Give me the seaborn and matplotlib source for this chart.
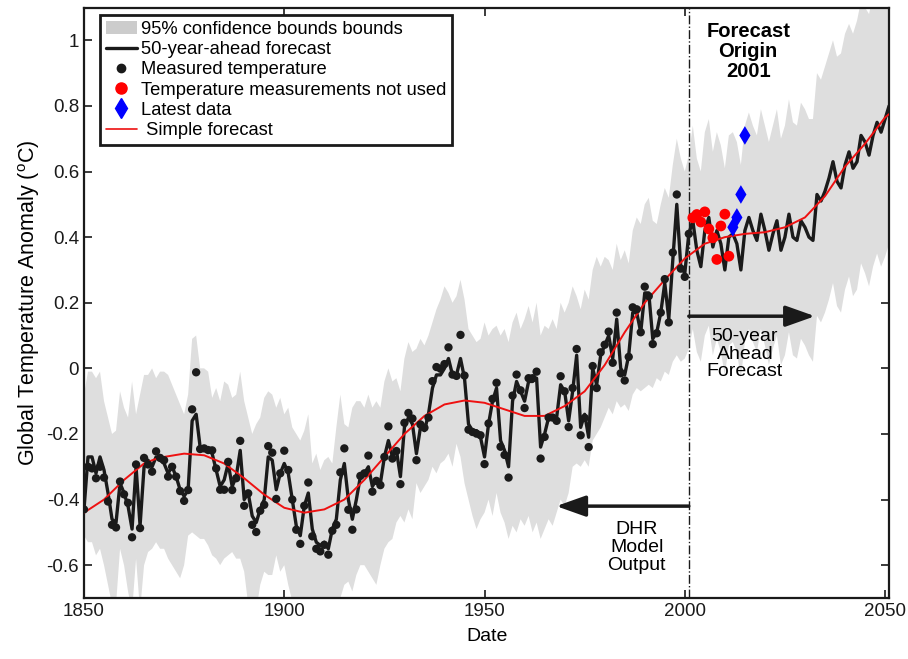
import numpy as np
import matplotlib
matplotlib.use('Agg')
import matplotlib.pyplot as plt
import seaborn as sns
from matplotlib.lines import Line2D
from matplotlib.patches import Patch

# Years covered by the model output / forecast and by the measurements
years = list(range(1850, 2052))
obs_years = list(range(1850, 2002))

# Measured global temperature anomaly (black dots)
measured = [
    -0.43, -0.30, -0.305, -0.335, -0.30, -0.333, -0.406, -0.477, -0.485, -0.345,
    -0.384, -0.41, -0.515, -0.293, -0.487, -0.273, -0.293, -0.315, -0.253, -0.273,
    -0.28, -0.33, -0.30, -0.33, -0.374, -0.404, -0.371, -0.125, -0.012, -0.246,
    -0.244, -0.249, -0.25, -0.305, -0.37, -0.37, -0.285, -0.371, -0.335, -0.221,
    -0.419, -0.381, -0.477, -0.499, -0.434, -0.416, -0.237, -0.257, -0.398, -0.32,
    -0.251, -0.31, -0.40, -0.492, -0.535, -0.419, -0.348, -0.512, -0.55, -0.558,
    -0.538, -0.568, -0.495, -0.477, -0.317, -0.244, -0.431, -0.492, -0.43, -0.328,
    -0.32, -0.266, -0.376, -0.343, -0.356, -0.27, -0.177, -0.275, -0.252, -0.353,
    -0.166, -0.136, -0.153, -0.28, -0.171, -0.181, -0.15, -0.039, 0.004, -0.001,
    0.013, 0.064, -0.019, -0.023, 0.102, -0.022, -0.187, -0.194, -0.199, -0.204,
    -0.292, -0.168, -0.093, -0.044, -0.239, -0.264, -0.333, -0.083, -0.019, -0.067,
    -0.121, -0.03, -0.03, -0.01, -0.275, -0.209, -0.15, -0.15, -0.16, -0.024,
    -0.07, -0.179, -0.06, 0.059, -0.204, -0.151, -0.24, 0.007, -0.06, 0.049,
    0.072, 0.112, 0.017, 0.17, -0.015, -0.037, 0.035, 0.186, 0.18, 0.11,
    0.249, 0.22, 0.074, 0.107, 0.17, 0.272, 0.14, 0.353, 0.53, 0.304,
    0.279, 0.41,
]

# DHR model output up to 2001, then the 50-year-ahead forecast (black line)
dhr_forecast = [
    -0.43, -0.27, -0.27, -0.32, -0.27, -0.31, -0.38, -0.46, -0.47, -0.35,
    -0.38, -0.42, -0.49, -0.30, -0.48, -0.30, -0.28, -0.30, -0.27, -0.28,
    -0.29, -0.32, -0.30, -0.33, -0.37, -0.39, -0.37, -0.16, -0.14, -0.24,
    -0.25, -0.25, -0.26, -0.31, -0.36, -0.34, -0.29, -0.36, -0.33, -0.25,
    -0.40, -0.38, -0.45, -0.47, -0.43, -0.40, -0.27, -0.28, -0.37, -0.32,
    -0.29, -0.32, -0.40, -0.48, -0.51, -0.42, -0.38, -0.49, -0.53, -0.54,
    -0.53, -0.55, -0.49, -0.46, -0.34, -0.29, -0.40, -0.46, -0.40, -0.33,
    -0.32, -0.30, -0.36, -0.34, -0.35, -0.27, -0.22, -0.27, -0.25, -0.33,
    -0.18, -0.15, -0.17, -0.26, -0.18, -0.19, -0.14, -0.06, -0.02, -0.02,
    0.00, 0.03, -0.02, -0.02, 0.03, -0.03, -0.17, -0.19, -0.19, -0.21,
    -0.27, -0.17, -0.10, -0.06, -0.22, -0.25, -0.30, -0.10, -0.04, -0.07,
    -0.10, -0.04, -0.04, -0.03, -0.24, -0.20, -0.15, -0.15, -0.15, -0.05,
    -0.07, -0.16, -0.07, 0.04, -0.18, -0.14, -0.21, 0.00, -0.05, 0.04,
    0.07, 0.10, 0.03, 0.15, 0.00, -0.02, 0.04, 0.17, 0.17, 0.11,
    0.23, 0.23, 0.09, 0.11, 0.17, 0.26, 0.15, 0.33, 0.50, 0.31,
    0.29, 0.41, 0.45, 0.36, 0.31, 0.42, 0.46, 0.37, 0.42, 0.38,
    0.30, 0.40, 0.41, 0.38, 0.30, 0.42, 0.46, 0.42, 0.39, 0.47,
    0.42, 0.36, 0.41, 0.45, 0.36, 0.40, 0.47, 0.40, 0.39, 0.45,
    0.43, 0.40, 0.39, 0.53, 0.51, 0.54, 0.58, 0.63, 0.57, 0.55,
    0.62, 0.66, 0.61, 0.63, 0.71, 0.69, 0.65, 0.71, 0.75, 0.72,
    0.76, 0.80,
]

# 95% confidence band edges
band_upper = [
    -0.08, -0.01, -0.01, -0.03, -0.01, -0.10, -0.15, -0.20, -0.19, -0.07,
    -0.12, -0.15, -0.04, -0.14, -0.08, -0.02, -0.02, 0.00, -0.03, -0.01,
    -0.01, -0.02, -0.05, -0.08, -0.11, -0.14, -0.08, 0.09, 0.10, 0.00,
    0.00, -0.01, -0.09, -0.06, -0.10, -0.04, -0.05, -0.09, -0.08, -0.01,
    -0.10, -0.15, -0.20, -0.17, -0.15, -0.09, -0.07, -0.08, -0.12, -0.09,
    -0.14, -0.12, -0.18, -0.20, -0.22, -0.19, -0.14, -0.29, -0.26, -0.31,
    -0.28, -0.27, -0.29, -0.18, -0.08, -0.17, -0.18, -0.12, -0.10, -0.10,
    -0.12, -0.08, -0.12, -0.10, -0.12, -0.04, 0.00, -0.04, -0.03, -0.07,
    0.03, 0.08, 0.05, 0.06, 0.09, 0.07, 0.10, 0.14, 0.18, 0.21,
    0.25, 0.23, 0.20, 0.22, 0.27, 0.21, 0.12, 0.10, 0.08, 0.09,
    0.14, 0.10, 0.12, 0.13, 0.10, 0.12, 0.08, 0.14, 0.17, 0.12,
    0.15, 0.19, 0.14, 0.20, 0.10, 0.13, 0.12, 0.15, 0.12, 0.20,
    0.17, 0.20, 0.25, 0.22, 0.18, 0.24, 0.21, 0.30, 0.34, 0.31,
    0.34, 0.33, 0.30, 0.38, 0.33, 0.36, 0.32, 0.42, 0.46, 0.44,
    0.50, 0.52, 0.45, 0.44, 0.50, 0.55, 0.52, 0.62, 0.70, 0.64,
    0.60, 0.65, 0.74, 0.64, 0.60, 0.72, 0.76, 0.66, 0.72, 0.68,
    0.61, 0.71, 0.72, 0.69, 0.62, 0.74, 0.78, 0.74, 0.71, 0.79,
    0.74, 0.69, 0.74, 0.79, 0.70, 0.74, 0.82, 0.75, 0.74, 0.81,
    0.79, 0.76, 0.76, 0.90, 0.88, 0.92, 0.96, 1.00, 0.95, 0.96,
    1.02, 1.05, 1.02, 1.06, 1.12, 1.10, 1.08, 1.14, 1.18, 1.15,
    1.20, 1.24,
]
band_lower = [
    -0.51, -0.53, -0.53, -0.57, -0.55, -0.60, -0.66, -0.72, -0.72, -0.55,
    -0.60, -0.68, -0.74, -0.58, -0.74, -0.60, -0.56, -0.55, -0.53, -0.55,
    -0.55, -0.58, -0.60, -0.62, -0.64, -0.60, -0.51, -0.50, -0.51, -0.52,
    -0.52, -0.54, -0.57, -0.58, -0.60, -0.58, -0.57, -0.56, -0.58, -0.58,
    -0.62, -0.72, -0.70, -0.74, -0.66, -0.62, -0.63, -0.63, -0.57, -0.62,
    -0.60, -0.66, -0.71, -0.74, -0.73, -0.72, -0.70, -0.75, -0.78, -0.76,
    -0.77, -0.78, -0.74, -0.73, -0.70, -0.66, -0.65, -0.68, -0.63, -0.60,
    -0.60, -0.62, -0.64, -0.66, -0.60, -0.55, -0.53, -0.52, -0.47, -0.45,
    -0.47, -0.43, -0.46, -0.35, -0.38, -0.36, -0.34, -0.30, -0.32, -0.29,
    -0.28, -0.26, -0.30, -0.23, -0.27, -0.35, -0.40, -0.45, -0.49, -0.46,
    -0.44, -0.40, -0.45, -0.38, -0.44, -0.47, -0.52, -0.48, -0.50, -0.46,
    -0.48, -0.45, -0.50, -0.47, -0.52, -0.49, -0.46, -0.48, -0.44, -0.40,
    -0.42, -0.38, -0.30, -0.29, -0.30, -0.28, -0.30, -0.22, -0.20, -0.18,
    -0.15, -0.12, -0.14, -0.10, -0.12, -0.11, -0.13, -0.08, -0.06, -0.07,
    -0.06, -0.05, -0.06, -0.03, -0.04, -0.01, -0.02, 0.02, 0.04, 0.02,
    0.03, 0.06, 0.12, 0.05, 0.02, 0.10, 0.13, 0.04, 0.09, 0.05,
    -0.02, 0.07, 0.08, 0.05, -0.03, 0.08, 0.12, 0.08, 0.05, 0.12,
    0.07, 0.01, 0.06, 0.10, 0.01, 0.04, 0.11, 0.04, 0.03, 0.09,
    0.07, 0.04, 0.02, 0.16, 0.14, 0.17, 0.21, 0.26, 0.19, 0.17,
    0.24, 0.28, 0.22, 0.24, 0.32, 0.29, 0.25, 0.31, 0.35, 0.31,
    0.34, 0.38,
]

# Simple forecast (smooth red curve)
simple_years = [1850, 1852.5, 1855, 1857.5, 1860, 1862.5, 1865, 1867.5, 1870, 1875,
                1880, 1885, 1890, 1895, 1900, 1905, 1910, 1915, 1920, 1925,
                1930, 1935, 1940, 1945, 1950, 1955, 1960, 1965, 1970, 1975,
                1980, 1985, 1990, 1995, 2000, 2005, 2010, 2015, 2020, 2025,
                2030, 2035, 2040, 2045, 2050, 2051]
simple_fc = [-0.44, -0.42, -0.40, -0.37, -0.34, -0.315, -0.29, -0.278, -0.27, -0.26,
             -0.265, -0.29, -0.335, -0.385, -0.425, -0.44, -0.43, -0.40, -0.34, -0.27,
             -0.20, -0.145, -0.11, -0.098, -0.105, -0.125, -0.145, -0.145, -0.115, -0.07,
             0.01, 0.11, 0.20, 0.27, 0.335, 0.38, 0.40, 0.41, 0.415, 0.43,
             0.46, 0.525, 0.615, 0.685, 0.765, 0.775]

# Measurements after the forecast origin
unused_years = [2002, 2003, 2004, 2005, 2006, 2007, 2008, 2009, 2010, 2011]
unused_temp = [0.459, 0.469, 0.446, 0.477, 0.425, 0.398, 0.332, 0.434, 0.47, 0.342]
latest_years = [2012, 2013, 2014, 2015]
latest_temp = [0.43, 0.46, 0.53, 0.71]

x_ticks = [1850, 1900, 1950, 2000, 2050]
y_ticks = [-0.6, -0.4, -0.2, 0, 0.2, 0.4, 0.6, 0.8, 1]
y_tick_labels = ['-0.6', '-0.4', '-0.2', '0', '0.2', '0.4', '0.6', '0.8', '1']

sns.set_theme(style='ticks', rc={'text.color': 'black', 'axes.labelcolor': 'black',
                                 'xtick.color': 'black', 'ytick.color': 'black',
                                 'axes.edgecolor': 'black'})
plt.rcParams['font.family'] = ['Liberation Sans', 'DejaVu Sans']
plt.rcParams['axes.unicode_minus'] = False
plt.rcParams['mathtext.fontset'] = 'custom'
plt.rcParams['mathtext.rm'] = 'Liberation Sans'

fig = plt.figure(figsize=(9.08, 6.59), dpi=100)
ax = fig.add_axes([0.0925, 0.0926, 0.8871, 0.896])

# confidence band
ax.fill_between(years, band_lower, band_upper, color='#dedede', linewidth=0, zorder=1)

# forecast origin
ax.axvline(2001, color='k', lw=1.0, ls='-.', zorder=2)

sns.lineplot(x=years, y=dhr_forecast, color='k', linewidth=2.4, ax=ax, zorder=3)
sns.lineplot(x=simple_years, y=simple_fc, color='#ee1111', linewidth=1.4, ax=ax, zorder=4)

sns.scatterplot(x=obs_years, y=measured, color='k', s=36, edgecolor='none', ax=ax, zorder=5)
sns.scatterplot(x=unused_years, y=unused_temp, color='#ff0000', s=60, edgecolor='none', ax=ax, zorder=5)
sns.scatterplot(x=latest_years, y=latest_temp, color='#0000ff', marker='d', s=90, edgecolor='none', ax=ax, zorder=6)

# annotations
ax.text(2015.8, 0.966, 'Forecast\nOrigin\n2001', ha='center', va='center',
        fontsize=14.5, fontweight='bold', linespacing=1.05)
ax.annotate('', xy=(2032.5, 0.159), xytext=(2001, 0.159),
            arrowprops=dict(arrowstyle='-|>,head_length=0.9,head_width=0.32', color='k',
                            lw=2.5, mutation_scale=20, shrinkA=0, shrinkB=0), zorder=7)
ax.text(2015, 0.043, '50-year\nAhead\nForecast', ha='center', va='center',
        fontsize=14, linespacing=1.05)
ax.annotate('', xy=(1967.9, -0.42), xytext=(2001, -0.42),
            arrowprops=dict(arrowstyle='-|>,head_length=0.9,head_width=0.32', color='k',
                            lw=2.5, mutation_scale=20, shrinkA=0, shrinkB=0), zorder=7)
ax.text(1988, -0.546, 'DHR\nModel\nOutput', ha='center', va='center',
        fontsize=14, linespacing=1.05)

ax.set_xlim(1850, 2051.1)
ax.set_ylim(-0.7, 1.1)
ax.set_xticks(x_ticks)
ax.set_yticks(y_ticks)
ax.set_yticklabels(y_tick_labels)
ax.tick_params(direction='in', length=6, width=1.2, top=True, right=True,
               labelsize=13.5, colors='k')
for sp in ax.spines.values():
    sp.set_linewidth(1.6)
    sp.set_color('k')
ax.set_xlabel('Date', fontsize=14, labelpad=6)
ax.set_ylabel(r'Global Temperature Anomaly ($^{\mathrm{o}}$C)', fontsize=15.5, labelpad=3)

handles = [
    Patch(facecolor='#cccccc', edgecolor='none'),
    Line2D([], [], color='k', lw=2.4),
    Line2D([], [], ls='none', marker='o', color='k', ms=6),
    Line2D([], [], ls='none', marker='o', color='#ff0000', ms=8),
    Line2D([], [], ls='none', marker='d', color='#0000ff', ms=10),
    Line2D([], [], color='#ee1111', lw=1.2),
]
labels = ['95% confidence bounds bounds', '50-year-ahead forecast', 'Measured temperature',
          'Temperature measurements not used', 'Latest data', ' Simple forecast']
leg = ax.legend(handles, labels, loc='upper left', bbox_to_anchor=(0.0199, 0.987),
                borderaxespad=0, fontsize=13.2, frameon=True, fancybox=False,
                edgecolor='k', framealpha=1, handlelength=1.7, handletextpad=0.25,
                labelspacing=0.18, borderpad=0.3)
leg.get_frame().set_linewidth(2)
leg.set_zorder(10)

fig.savefig('out.png', dpi=100)
